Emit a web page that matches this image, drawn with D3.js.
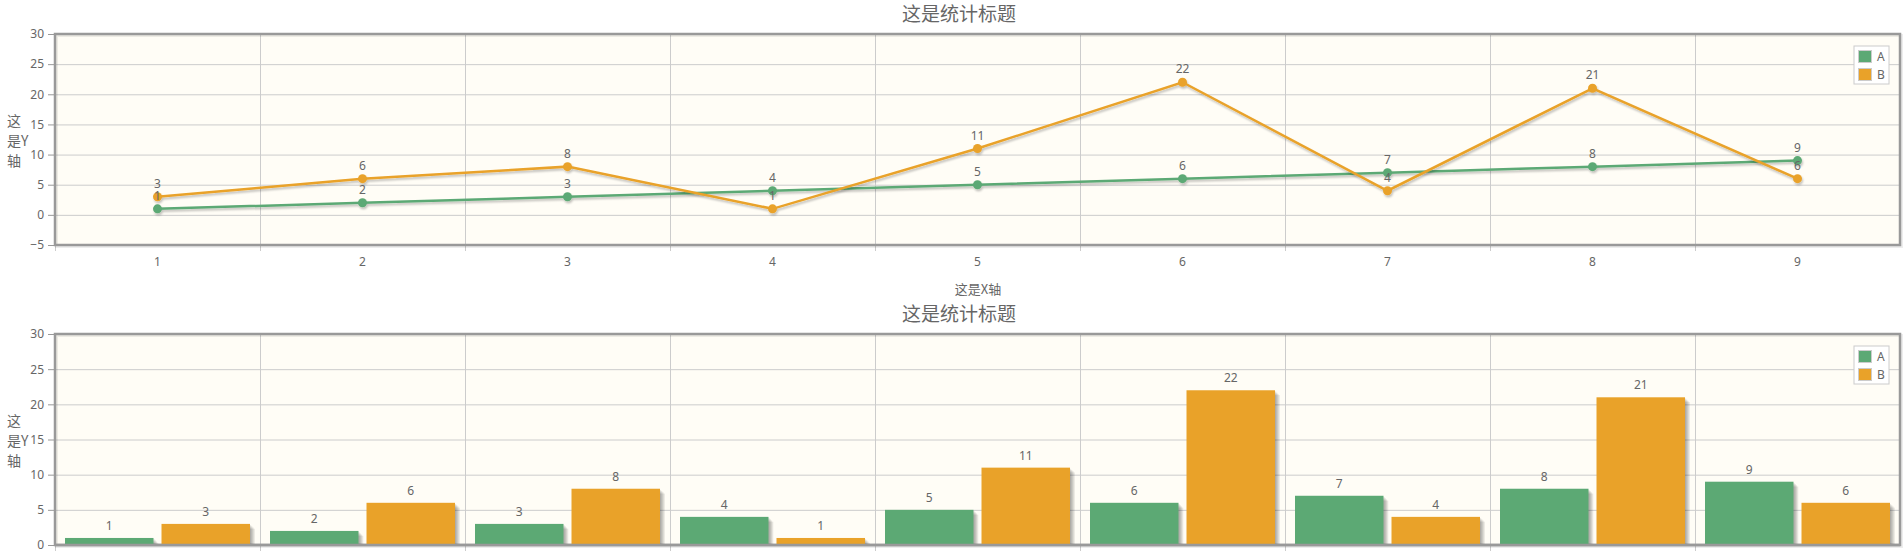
<!DOCTYPE html>
<html>
<head>
<meta charset="utf-8">
<script src="https://cdn.jsdelivr.net/npm/d3@7"></script>
<style>
  body { margin: 0; background: #fff; }
  svg text { font-family: "Noto Sans CJK SC", "Noto Sans", sans-serif; fill: #666; }
</style>
</head>
<body>
<div id="canvas"></div>
<script>
// chart data
const categories = ["1", "2", "3", "4", "5", "6", "7", "8", "9"];
const seriesNames = ["A", "B"];
const valuesA = [1, 2, 3, 4, 5, 6, 7, 8, 9];
const valuesB = [3, 6, 8, 1, 11, 22, 4, 21, 6];
const lineTicks = [-5, 0, 5, 10, 15, 20, 25, 30];
const barTicks = [0, 5, 10, 15, 20, 25, 30];
const chartTitle = "这是统计标题";
const xTitle = "这是X轴";
const yTitleLines = ["这", "是Y", "轴"];

const colors = ["#5ca974", "#e9a229"];
const series = [valuesA, valuesB];

const width = 1903;
const height = 555;

const svg = d3.select("#canvas").append("svg")
  .attr("width", width)
  .attr("height", height);

const defs = svg.append("defs");
defs.append("filter").attr("id", "lineShadow")
  .attr("x", "-5%").attr("y", "-20%").attr("width", "110%").attr("height", "140%")
  .html('<feGaussianBlur in="SourceAlpha" stdDeviation="0.8"/><feOffset dx="1.2" dy="1.6" result="o"/>' +
        '<feComponentTransfer><feFuncA type="linear" slope="0.25"/></feComponentTransfer>' +
        '<feMerge><feMergeNode/><feMergeNode in="SourceGraphic"/></feMerge>');

// common frame: grid, border, axes
function drawFrame(top, bottom, ticks, drawXLabels) {
  const left = 55, right = 1900;

  const x = d3.scaleBand().domain(categories).range([left, right]);
  const y = d3.scaleLinear().domain(d3.extent(ticks)).range([bottom, top]);

  const g = svg.append("g");

  g.append("rect")
    .attr("x", left).attr("y", top)
    .attr("width", right - left).attr("height", bottom - top)
    .style("fill", "#fffdf6");

  // horizontal grid
  g.selectAll(".hgrid").data(ticks).enter().append("line")
    .attr("x1", left).attr("x2", right)
    .attr("y1", d => y(d) + 0.5).attr("y2", d => y(d) + 0.5)
    .style("stroke", "#cccccc");

  // vertical grid at band edges
  const edges = categories.map(c => x(c)).slice(1);
  g.selectAll(".vgrid").data(edges).enter().append("line")
    .attr("x1", d => d + 0.5).attr("x2", d => d + 0.5)
    .attr("y1", top).attr("y2", bottom)
    .style("stroke", "#cccccc");

  // y axis
  const yAxis = g.append("g")
    .attr("transform", `translate(${left - 1},0)`)
    .call(d3.axisLeft(y).tickValues(ticks).tickSize(6).tickPadding(4));
  yAxis.select(".domain").remove();
  yAxis.selectAll("line").style("stroke", "#999");
  yAxis.selectAll("text").style("font-size", "12px").style("fill", "#666")
    .style("font-family", "'Noto Sans', sans-serif");

  // x axis ticks at band edges
  const xAxis = g.append("g").attr("transform", `translate(0,${bottom})`);
  xAxis.selectAll("line").data([left].concat(edges)).enter().append("line")
    .attr("x1", d => d + 0.5).attr("x2", d => d + 0.5)
    .attr("y1", 0).attr("y2", 6)
    .style("stroke", "#ccc");
  if (drawXLabels) {
    xAxis.selectAll("text").data(categories).enter().append("text")
      .attr("x", d => x(d) + x.bandwidth() / 2)
      .attr("y", 21)
      .attr("text-anchor", "middle")
      .style("font-size", "12px")
      .style("font-family", "'Noto Sans', sans-serif")
      .text(d => d);
  }

  // border with soft shadow
  g.append("rect")
    .attr("x", left + 1.5).attr("y", top + 1.5)
    .attr("width", right - left).attr("height", bottom - top)
    .style("fill", "none").style("stroke", "rgba(0,0,0,0.07)").style("stroke-width", 3);
  g.append("rect")
    .attr("x", left).attr("y", top)
    .attr("width", right - left).attr("height", bottom - top)
    .style("fill", "none").style("stroke", "#999").style("stroke-width", 2.5);

  // title
  svg.append("text")
    .attr("x", 959).attr("y", top - 13)
    .attr("text-anchor", "middle")
    .style("font-size", "19px")
    .text(chartTitle);

  // y title, wrapped
  const mid = (top + bottom) / 2;
  svg.append("g").selectAll("text").data(yTitleLines).enter().append("text")
    .attr("x", 7)
    .attr("y", (d, i) => mid + (i - 1) * 20 + 6)
    .style("font-size", "14px")
    .text(d => d);

  // legend
  const lg = svg.append("g").attr("transform", `translate(1854,${top + 12})`);
  lg.append("rect").attr("width", 35).attr("height", 38)
    .style("fill", "#fff").style("stroke", "#ccc");
  seriesNames.forEach((s, i) => {
    lg.append("rect")
      .attr("x", 4.5).attr("y", 4.5 + i * 18)
      .attr("width", 13).attr("height", 12)
      .style("fill", colors[i]).style("stroke", "#ccc");
    lg.append("text")
      .attr("x", 23).attr("y", 15 + i * 18)
      .style("font-size", "12px")
      .style("font-family", "'Noto Sans', sans-serif")
      .text(s);
  });

  return { x, y, g };
}

// ---- line chart ----
const top1 = drawFrame(34, 245, lineTicks, true);

svg.append("text")
  .attr("x", 978).attr("y", 294)
  .attr("text-anchor", "middle")
  .style("font-size", "13px")
  .text(xTitle);

const cx = d => top1.x(d) + top1.x.bandwidth() / 2;

series.forEach((vals, si) => {
  const pts = vals.map((v, i) => [cx(categories[i]), top1.y(v)]);
  const sg = top1.g.append("g").attr("filter", "url(#lineShadow)");
  sg.append("path")
    .attr("d", d3.line()(pts))
    .style("fill", "none")
    .style("stroke", colors[si])
    .style("stroke-width", 2.5);
  sg.selectAll("circle").data(pts).enter().append("circle")
    .attr("cx", d => d[0]).attr("cy", d => d[1]).attr("r", 4.5)
    .style("fill", colors[si]);
});
series.forEach(vals => {
  top1.g.selectAll(null).data(vals).enter().append("text")
    .attr("x", (d, i) => cx(categories[i]))
    .attr("y", d => top1.y(d) - 9)
    .attr("text-anchor", "middle")
    .style("font-size", "12px")
    .style("font-family", "'Noto Sans', sans-serif")
    .text(d => d);
});

// ---- bar chart ----
const top2 = drawFrame(334, 545, barTicks, false);

const xs = d3.scaleBand()
  .domain(seriesNames)
  .range([10, top2.x.bandwidth() - 10])
  .paddingInner(0.083);

series.forEach((vals, si) => {
  const bx = (d, i) => top2.x(categories[i]) + xs(seriesNames[si]);
  // shadow layers
  for (let k = 1; k <= 4; k++) {
    top2.g.selectAll(null).data(vals).enter().append("rect")
      .attr("x", (d, i) => bx(d, i) + k * 1.2)
      .attr("y", d => top2.y(d) + k * 1.2)
      .attr("width", xs.bandwidth())
      .attr("height", d => top2.y(0) - top2.y(d) - k * 1.2)
      .style("fill", "rgba(0,0,0,0.09)");
  }
  top2.g.selectAll(null).data(vals).enter().append("rect")
    .attr("x", bx)
    .attr("y", d => top2.y(d))
    .attr("width", xs.bandwidth())
    .attr("height", d => top2.y(0) - top2.y(d))
    .style("fill", colors[si]);
  top2.g.selectAll(null).data(vals).enter().append("text")
    .attr("x", (d, i) => bx(d, i) + xs.bandwidth() / 2)
    .attr("y", d => top2.y(d) - 8)
    .attr("text-anchor", "middle")
    .style("font-size", "12px")
    .style("font-family", "'Noto Sans', sans-serif")
    .text(d => d);
});

// redraw bottom border over the bars
top2.g.append("line")
  .attr("x1", 55).attr("x2", 1900)
  .attr("y1", 545).attr("y2", 545)
  .style("stroke", "#999").style("stroke-width", 2.5);
</script>
</body>
</html>
